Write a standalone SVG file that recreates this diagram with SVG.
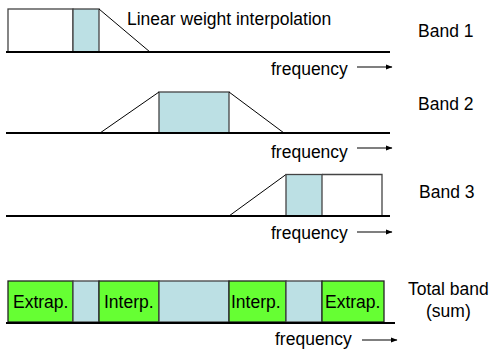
<svg xmlns="http://www.w3.org/2000/svg" width="495" height="354" viewBox="0 0 495 354">
<defs>
<marker id="arr" markerWidth="7" markerHeight="6" refX="6" refY="3" orient="auto" markerUnits="userSpaceOnUse">
<path d="M0,0.5 L6.5,3 L0,5.5 Z" fill="#000"/>
</marker>
<style>
text{font-family:"Liberation Sans",Arial,sans-serif;font-size:17.5px;fill:#000}
.axis{stroke:#000;stroke-width:2;fill:none}
.edge{stroke:#444;stroke-width:1.3;fill:none}
.slope{stroke:#000;stroke-width:1;fill:none}
.blue{fill:#bce0e4;stroke:#444;stroke-width:1.3}
.green{fill:#66ff33;stroke:#222;stroke-width:1.3}
.white{fill:#fff;stroke:#444;stroke-width:1.3}
.freq{stroke:#000;stroke-width:1.2;fill:none;marker-end:url(#arr)}
</style>
</defs>
<g id="band1">
<rect class="white" x="8" y="9" width="65" height="43"/>
<rect class="blue" x="73" y="9" width="26" height="43"/>
<line class="slope" x1="99" y1="9" x2="150" y2="52"/>
<text x="127" y="25">Linear weight interpolation</text>
<text x="418" y="37">Band 1</text>
</g>
<g id="band2">
<rect class="blue" x="159" y="92" width="70" height="41"/>
<line class="slope" x1="100" y1="133" x2="159" y2="92"/>
<line class="slope" x1="229" y1="92" x2="284" y2="133"/>
<text x="418" y="110">Band 2</text>
</g>
<g id="band3">
<line class="slope" x1="229" y1="216" x2="286" y2="174.5"/>
<rect class="blue" x="286" y="174.5" width="36" height="41.5"/>
<polyline class="edge" points="322,174.5 382,174.5 382,216"/>
<text x="419" y="198">Band 3</text>
</g>
<g id="total">
<rect class="green" x="8" y="281" width="65" height="41"/>
<rect class="blue" x="73" y="281" width="26" height="41"/>
<rect class="green" x="99" y="281" width="60" height="41"/>
<rect class="blue" x="159" y="281" width="70" height="41"/>
<rect class="green" x="229" y="281" width="57" height="41"/>
<rect class="blue" x="286" y="281" width="36" height="41"/>
<rect class="green" x="322" y="281" width="62" height="41"/>
<text x="13" y="308">Extrap.</text>
<text x="104" y="308">Interp.</text>
<text x="231" y="308">Interp.</text>
<text x="325" y="308">Extrap.</text>
<text x="408" y="295">Total band</text>
<text x="426" y="317">(sum)</text>
</g>
<g id="connectors">
<line class="axis" x1="6" y1="52" x2="390" y2="52"/>
<line class="axis" x1="6" y1="133" x2="390" y2="133"/>
<line class="axis" x1="6" y1="216" x2="390" y2="216"/>
<line class="axis" x1="6" y1="323" x2="395" y2="323"/>
<text x="271" y="75">frequency</text>
<line class="freq" x1="357" y1="67" x2="392" y2="67"/>
<text x="271" y="158">frequency</text>
<line class="freq" x1="357" y1="148" x2="392" y2="148"/>
<text x="271" y="239">frequency</text>
<line class="freq" x1="357" y1="232" x2="392" y2="232"/>
<text x="275" y="345">frequency</text>
<line class="freq" x1="362" y1="340" x2="397" y2="340"/>
</g>
</svg>
